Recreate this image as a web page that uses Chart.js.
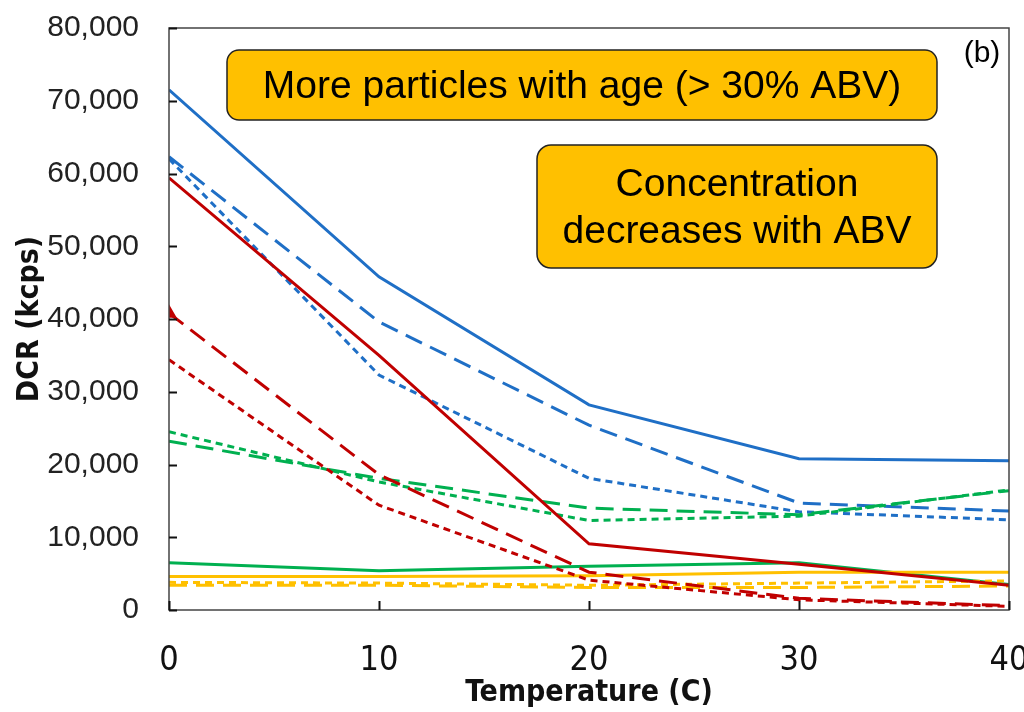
<!DOCTYPE html>
<html>
<head>
<meta charset="utf-8">
<script src="https://cdn.jsdelivr.net/npm/chart.js@4.4.1/dist/chart.umd.min.js"></script>
<style>
  html, body { margin: 0; padding: 0; background: #fff; }
  #wrap { width: 1024px; height: 712px; position: relative; }
</style>
</head>
<body>
<div id="wrap"><canvas id="dcrChart"></canvas></div>
<script>
document.addEventListener('DOMContentLoaded', function() {

    // temperature points (C)
    const temps = [0, 10, 20, 30, 40];

    // DCR in kcps, one array per sample
    const blueSolid = [71500, 45800, 28200, 20800, 20500];
    const blueLong  = [62300, 39600, 25400, 14700, 13600];
    const blueShort = [62000, 32300, 18100, 13500, 12400];
    const redSolid  = [59400, 35000, 9100, 6300, 3400];
    const redLong   = [40800, 18600, 5200, 1600, 600];
    const redShort  = [34400, 14400, 4100, 1400, 500];
    const greenSolid = [6500, 5400, 6000, 6500, 3500];
    const greenLong  = [23200, 18100, 14000, 13100, 16400];
    const greenShort = [24500, 17600, 12300, 12900, 16500];
    const yellowSolid = [4600, 4600, 4700, 5200, 5200];
    const yellowShort = [3800, 3700, 3400, 3700, 4000];
    const yellowLong  = [3400, 3400, 3100, 3100, 3300];

    const yTicks = [0, 10000, 20000, 30000, 40000, 50000, 60000, 70000, 80000];

    const BLUE = '#1f6fc6', RED = '#c00000', GREEN = '#00b050', YELLOW = '#ffc000';
    const LONG = [18, 9], SHORT = [7, 5];

    function series(values, color, dash, extra) {
        return Object.assign({
            data: temps.map((t, i) => ({ x: t, y: values[i] })),
            borderColor: color,
            backgroundColor: color,
            borderWidth: 3,
            borderDash: dash,
            pointRadius: 0,
            tension: 0,
            fill: false
        }, extra || {});
    }

    const datasets = [
        series(redSolid, RED, []),
        series(redLong, RED, LONG, { pointRadius: [6, 0, 0, 0, 0], pointStyle: 'triangle' }),
        series(redShort, RED, SHORT),
        series(yellowSolid, YELLOW, []),
        series(yellowShort, YELLOW, SHORT),
        series(yellowLong, YELLOW, LONG),
        series(greenSolid, GREEN, []),
        series(greenLong, GREEN, LONG),
        series(greenShort, GREEN, SHORT),
        series(blueSolid, BLUE, []),
        series(blueLong, BLUE, LONG),
        series(blueShort, BLUE, SHORT)
    ];

    const NARROW = "'Liberation Sans Narrow', 'DejaVu Sans Condensed', 'Liberation Sans', Arial, sans-serif";
    const SANS = "'Liberation Sans', Arial, sans-serif";

    function roundRect(ctx, x, y, w, h, r) {
        ctx.beginPath();
        ctx.moveTo(x + r, y);
        ctx.arcTo(x + w, y, x + w, y + h, r);
        ctx.arcTo(x + w, y + h, x, y + h, r);
        ctx.arcTo(x, y + h, x, y, r);
        ctx.arcTo(x, y, x + w, y, r);
        ctx.closePath();
    }

    // box frame, inward tick marks, callout boxes and panel tag
    const decorations = {
        id: 'decorations',
        afterDraw(chart) {
            const { ctx, chartArea: a, scales } = chart;
            ctx.save();

            ctx.strokeStyle = '#444';
            ctx.lineWidth = 1.5;
            ctx.strokeRect(a.left, a.top, a.right - a.left, a.bottom - a.top);

            ctx.strokeStyle = '#111';
            ctx.lineWidth = 2;
            ctx.beginPath();
            yTicks.forEach(v => {
                const y = Math.round(scales.y.getPixelForValue(v)) + 0.5;
                ctx.moveTo(a.left, y);
                ctx.lineTo(a.left + 8, y);
            });
            temps.forEach(t => {
                const x = Math.round(scales.x.getPixelForValue(t)) + 0.5;
                ctx.moveTo(x, a.bottom);
                ctx.lineTo(x, a.bottom - 9);
            });
            ctx.stroke();

            ctx.lineWidth = 1.5;
            ctx.strokeStyle = '#222';
            ctx.fillStyle = YELLOW;
            roundRect(ctx, 227, 50, 710, 70, 12);
            ctx.fill(); ctx.stroke();
            roundRect(ctx, 537, 145, 400, 123, 14);
            ctx.fill(); ctx.stroke();

            ctx.fillStyle = '#000';
            ctx.textAlign = 'center';
            ctx.textBaseline = 'middle';
            ctx.font = '39px ' + SANS;
            ctx.fillText('More particles with age (> 30% ABV)', 582, 87);
            ctx.fillText('Concentration', 737, 185);
            ctx.fillText('decreases with ABV', 737, 232);

            ctx.font = '30px ' + SANS;
            ctx.fillText('(b)', 982, 54);
            ctx.restore();
        }
    };

    new Chart(document.getElementById('dcrChart'), {
        type: 'line',
        data: { datasets },
        options: {
            responsive: true,
            maintainAspectRatio: false,
            animation: false,
            layout: { padding: { top: 28, right: 15, left: 0, bottom: 0 } },
            plugins: {
                legend: { display: false },
                tooltip: { enabled: false }
            },
            scales: {
                x: {
                    type: 'linear',
                    min: 0, max: 40,
                    afterBuildTicks: s => { s.ticks = temps.map(v => ({ value: v })); },
                    afterFit: s => { s.height = 102; s.paddingLeft = 0; s.paddingRight = 0; },
                    grid: { display: false, drawTicks: false },
                    border: { display: false },
                    ticks: {
                        color: '#111',
                        padding: 31,
                        font: { family: NARROW, size: 34 }
                    },
                    title: {
                        display: true,
                        text: 'Temperature (C)',
                        color: '#111',
                        padding: { top: 0, bottom: 1 },
                        font: { family: NARROW, size: 30, weight: 'bold' }
                    }
                },
                y: {
                    type: 'linear',
                    min: 0, max: 80000,
                    afterBuildTicks: s => { s.ticks = yTicks.map(v => ({ value: v })); },
                    afterFit: s => { s.width = 169; s.paddingTop = 0; s.paddingBottom = 0; },
                    grid: { display: false, drawTicks: false },
                    border: { display: false },
                    ticks: {
                        color: '#222',
                        padding: 30,
                        font: { family: SANS, size: 30 },
                        callback: v => v.toLocaleString('en-US')
                    },
                    title: {
                        display: true,
                        text: 'DCR (kcps)',
                        color: '#111',
                        padding: { top: 12, bottom: 0 },
                        font: { family: NARROW, size: 30, weight: 'bold' }
                    }
                }
            }
        },
        plugins: [decorations]
    });

});
</script>
</body>
</html>
